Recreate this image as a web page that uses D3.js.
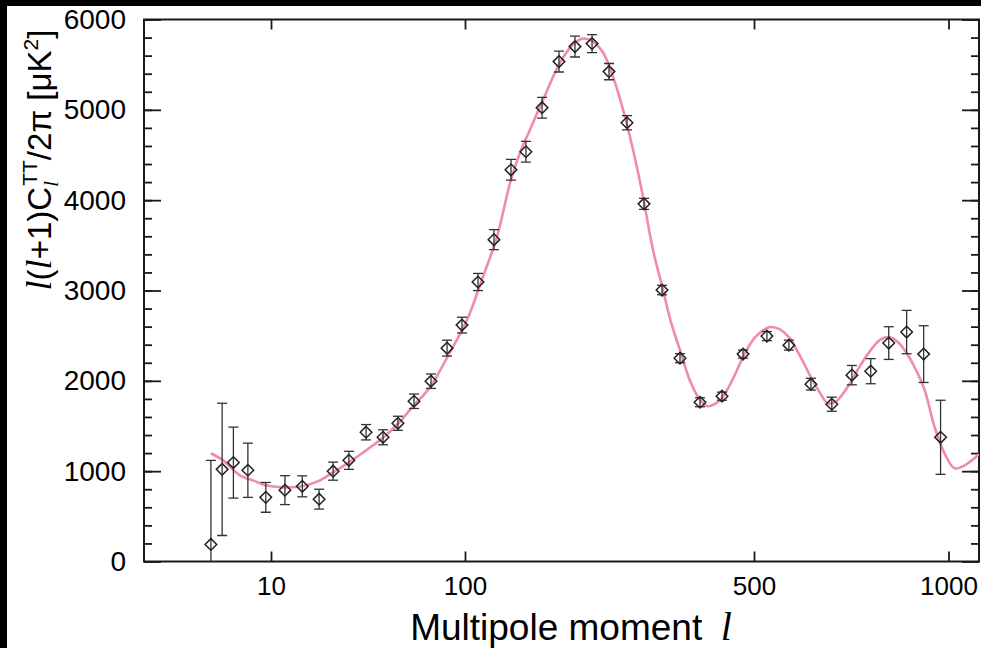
<!DOCTYPE html>
<html>
<head>
<meta charset="utf-8">
<script src="https://cdn.jsdelivr.net/npm/d3@7"></script>
<style>
  html, body { margin: 0; padding: 0; background: #fff; }
  svg { display: block; }
</style>
</head>
<body>
<script>
// ---- data ----
const multipoles = [4.9, 5.6, 6.4, 7.6, 9.4, 11.8, 14.5, 17.7, 20.9, 25.2, 30.9, 37.8, 45.1, 54.6, 66.8, 80.8, 96.5,
  107.5, 117.5, 129.2, 140.4, 153.6, 168.8, 184.5, 202.9, 223.0, 246.5, 271.0, 299.6, 331.1, 370.2, 418.4, 470.4,
  523.6, 566.2, 612.4, 659.8, 708.7, 757.9, 808.2, 861.4, 915.3, 972.1];
const powerValues = [189, 1020, 1095, 1010, 710, 790, 832, 690, 1000, 1120, 1431, 1375, 1530, 1774, 1996, 2362, 2617,
  3094, 3563, 4336, 4536, 5024, 5534, 5700, 5733, 5423, 4857, 3959, 3005, 2251, 1763, 1830, 2296,
  2495, 2395, 1963, 1741, 2063, 2107, 2418, 2540, 2296, 1375];
const powerErrors = [930, 732, 393, 300, 165, 160, 116, 110, 100, 100, 85, 83, 78, 80, 80, 88, 87,
  95, 110, 115, 115, 115, 115, 115, 100, 90, 78, 60, 52, 50, 50, 45, 45,
  50, 55, 65, 78, 107, 139, 181, 240, 314, 410];

const modelMultipoles = [4.9, 5.66, 6.92, 8.27, 9.42, 11.53, 14.45, 17.89, 20.87, 25.24, 29.8, 33.6, 37.8, 45.1, 54.0,
  66.0, 83.7, 101.1, 110.5, 119.5, 128.5, 135.8, 143.6, 154.5, 169.8, 182.5, 192.9, 204.0, 215.7, 228.0, 241.1,
  254.9, 269.5, 284.9, 299.6, 314.9, 331.1, 350.1, 370.2, 387.0, 402.4, 418.4, 442.3, 470.4, 501.8, 529.1, 548.3,
  566.2, 588.8, 612.4, 632.2, 650.5, 669.2, 688.5, 708.7, 728.8, 757.9, 782.7, 808.2, 831.3, 855.3, 886.3, 918.6,
  951.8, 985.8, 1021.6, 1058.5, 1112.5];
const modelValues = [1198, 1120, 954, 890, 843, 821, 832, 898, 987, 1098, 1205, 1286, 1370, 1525, 1719,
  1930, 2318, 2673, 3150, 3593, 4190, 4525, 4780, 5113, 5523, 5723, 5789, 5756, 5634, 5368, 5002,
  4558, 4037, 3449, 3050, 2650, 2340, 2000, 1790, 1719, 1745, 1808, 2000, 2262, 2480, 2595, 2570,
  2484, 2280, 2040, 1870, 1752, 1770, 1870, 2007, 2160, 2340, 2450, 2484, 2440, 2340, 2150, 1896,
  1486, 1198, 1031, 1065, 1187];

const xTickValues = [10, 100, 500, 1000];
const xTickLabels = ["10", "100", "500", "1000"];
const yTickValues = [0, 1000, 2000, 3000, 4000, 5000, 6000];
const yMinorTickValues = d3.range(0, 6001, 200);

// ---- layout ----
const W = 981, H = 648;
const mLeft = 144, mRight = 979, mTop = 19.5, mBottom = 561.5;

const svg = d3.select("body").append("svg").attr("width", W).attr("height", H);
svg.append("rect").attr("width", W).attr("height", H).attr("fill", "#fff");

// x axis: piecewise logarithmic (matched to the reference tick positions)
const x = d3.scaleLog()
  .domain([2.215, 10, 100, 500, 1000, 1112.5])
  .range([mLeft, 271, 465, 754, 948.5, mRight]);
const y = d3.scaleLinear().domain([0, 6000]).range([mBottom, mTop]);

const font = "'Liberation Sans', Arial, Helvetica, sans-serif";
const serif = "'Liberation Serif', 'Times New Roman', serif";
const axisColor = "#1a1a1a";

function styleAxis(g) {
  g.select(".domain").remove();
  g.selectAll(".tick line").attr("stroke", axisColor).attr("stroke-width", 1.8);
  g.selectAll(".tick text").attr("fill", "#000").style("font-family", font);
}

// minor y ticks (left & right)
svg.append("g").attr("transform", `translate(${mLeft},0)`)
  .call(d3.axisLeft(y).tickValues(yMinorTickValues).tickSize(-8).tickFormat(""))
  .call(styleAxis);
svg.append("g").attr("transform", `translate(${mRight},0)`)
  .call(d3.axisRight(y).tickValues(yMinorTickValues).tickSize(-8).tickFormat(""))
  .call(styleAxis);
// major y ticks with labels
svg.append("g").attr("transform", `translate(${mLeft},0)`)
  .call(d3.axisLeft(y).tickValues(yTickValues).tickSize(-17).tickPadding(18).tickFormat(d3.format("d")))
  .call(styleAxis)
  .call(g => g.selectAll(".tick text").style("font-size", "28px"));
svg.append("g").attr("transform", `translate(${mRight},0)`)
  .call(d3.axisRight(y).tickValues(yTickValues).tickSize(-17).tickFormat(""))
  .call(styleAxis);

// x ticks bottom & top
svg.append("g").attr("transform", `translate(0,${mBottom})`)
  .call(d3.axisBottom(x).tickValues(xTickValues).tickSize(-10).tickPadding(15)
    .tickFormat((d, i) => xTickLabels[i]))
  .call(styleAxis)
  .call(g => g.selectAll(".tick text").style("font-size", "26px"));
svg.append("g").attr("transform", `translate(0,${mTop})`)
  .call(d3.axisTop(x).tickValues(xTickValues).tickSize(-10).tickFormat(""))
  .call(styleAxis);

// frame
svg.append("rect")
  .attr("x", mLeft).attr("y", mTop).attr("width", mRight - mLeft).attr("height", mBottom - mTop)
  .attr("fill", "none").attr("stroke", axisColor).attr("stroke-width", 2);

// model curve
const clipId = "plotclip";
svg.append("clipPath").attr("id", clipId).append("rect")
  .attr("x", mLeft).attr("y", mTop).attr("width", mRight - mLeft).attr("height", mBottom - mTop);

const model = modelMultipoles.map((l, i) => [l, modelValues[i]]);
svg.append("path")
  .datum(model)
  .attr("clip-path", `url(#${clipId})`)
  .attr("fill", "none")
  .attr("stroke", "#f08aae")
  .attr("stroke-width", 2.6)
  .attr("d", d3.line().x(d => x(d[0])).y(d => y(d[1])).curve(d3.curveCatmullRom.alpha(0.5)));

// data points with error bars
const pts = multipoles.map((l, i) => ({ l, v: powerValues[i], e: powerErrors[i] }));
const gPts = svg.append("g").attr("clip-path", `url(#${clipId})`);
const capW = 5;
const barColor = "#333";
const pg = gPts.selectAll("g.pt").data(pts).join("g").attr("class", "pt");
pg.append("line")
  .attr("x1", d => x(d.l)).attr("x2", d => x(d.l))
  .attr("y1", d => y(Math.max(0, d.v - d.e))).attr("y2", d => y(d.v + d.e))
  .attr("stroke", barColor).attr("stroke-width", 1.3);
pg.filter(d => d.v - d.e > 0).append("line")
  .attr("x1", d => x(d.l) - capW).attr("x2", d => x(d.l) + capW)
  .attr("y1", d => y(d.v - d.e)).attr("y2", d => y(d.v - d.e))
  .attr("stroke", barColor).attr("stroke-width", 1.3);
pg.append("line")
  .attr("x1", d => x(d.l) - capW).attr("x2", d => x(d.l) + capW)
  .attr("y1", d => y(d.v + d.e)).attr("y2", d => y(d.v + d.e))
  .attr("stroke", barColor).attr("stroke-width", 1.3);
const dS = 5.8;
pg.append("path")
  .attr("d", d => {
    const cx = x(d.l), cy = y(d.v);
    return `M${cx},${cy - dS}L${cx + dS},${cy}L${cx},${cy + dS}L${cx - dS},${cy}Z`;
  })
  .attr("fill", "none").attr("stroke", "#222").attr("stroke-width", 1.5);

// y axis title
const yt = svg.append("text")
  .attr("transform", "translate(51,160) rotate(-90)")
  .attr("text-anchor", "middle")
  .style("font-family", font).style("font-size", "33px").attr("fill", "#000");
yt.append("tspan").style("font-family", serif).style("font-style", "italic").style("font-size", "36px").text("l");
yt.append("tspan").text("(");
yt.append("tspan").style("font-family", serif).style("font-style", "italic").style("font-size", "36px").text("l");
yt.append("tspan").text("+1)C");
yt.append("tspan").style("font-family", serif).style("font-style", "italic").style("font-size", "22px").attr("dy", 7).text("l");
yt.append("tspan").style("font-size", "21px").attr("dx", -5).attr("dy", -21).text("TT");
yt.append("tspan").attr("dy", 14).text("/2π [μK");
yt.append("tspan").style("font-size", "21px").attr("dy", -13).text("2");
yt.append("tspan").attr("dy", 13).text("]");

// x axis title
const xt = svg.append("text")
  .attr("x", 571).attr("y", 640)
  .attr("text-anchor", "middle")
  .style("font-family", font).style("font-size", "37px").attr("fill", "#000");
xt.append("tspan").text("Multipole moment\u2002");
xt.append("tspan").style("font-family", serif).style("font-style", "italic").style("font-size", "40px").text("l");

// black strips at top and left edge (as in the reference screenshot)
svg.append("rect").attr("x", 0).attr("y", 0).attr("width", W).attr("height", 6).attr("fill", "#000");
svg.append("rect").attr("x", 0).attr("y", 0).attr("width", 7).attr("height", H).attr("fill", "#000");
</script>
</body>
</html>
